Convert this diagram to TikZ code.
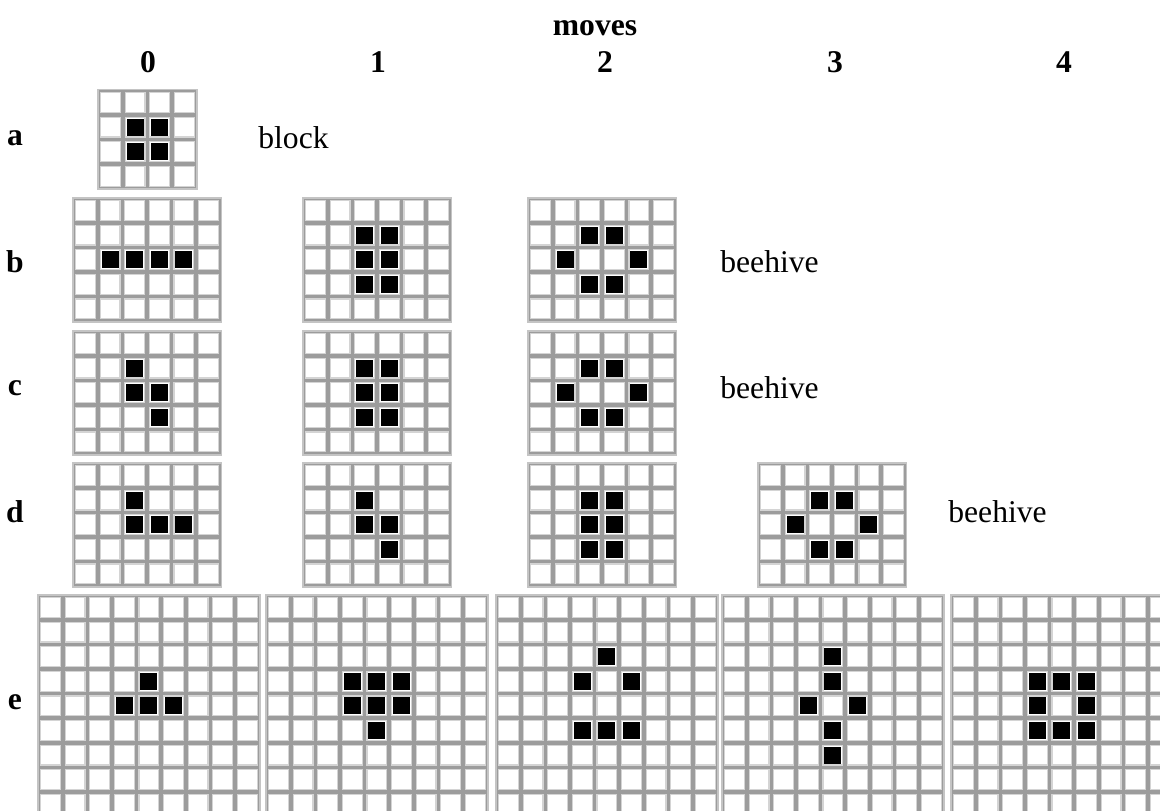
\documentclass[tikz,border=0pt]{standalone}
\usepackage{fontspec}
\setmainfont{Liberation Serif}
\usetikzlibrary{positioning}
\definecolor{gridline}{HTML}{9C9C9C}
\definecolor{gridedge}{HTML}{C4C4C4}
\definecolor{cellhi}{HTML}{D4D4D4}

\newcommand{\cellsz}{24.6}
% \lifegrid{name}{x}{y}{cols}{rows}{live cells as col/row}
\newcommand{\lifegrid}[6]{%
  \coordinate (#1) at (#2,#3);
  \fill[gridedge] (#1) rectangle ({#2+#4*\cellsz+2.5},{#3+#5*\cellsz+2.5});
  \fill[gridline] ({#2+1.5},{#3+1.5}) rectangle ({#2+#4*\cellsz+1},{#3+#5*\cellsz+1});
  \foreach \i in {1,...,#4}{
    \foreach \j in {1,...,#5}{
      \filldraw[cell] ({#2+(\i-1)*\cellsz+3.6},{#3+(\j-1)*\cellsz+3.6}) rectangle ++(19.8,19.8);
    }
  }
  \foreach \i/\j in {#6}{
    \fill[alive] ({#2+\i*\cellsz+5},{#3+\j*\cellsz+5}) rectangle ++(17,17);
  }
}

\begin{document}
\begin{tikzpicture}[
  x=0.02cm, y=-0.02cm,
  cell/.style={fill=white, draw=cellhi, line width=0.6pt},
  alive/.style={fill=black},
  rowlabel/.style={font=\fontsize{18}{20}\selectfont\bfseries, inner sep=0pt},
  colnum/.style={font=\fontsize{18}{20}\selectfont\bfseries, inner sep=0pt},
  note/.style={font=\fontsize{18}{20}\selectfont, anchor=west, inner sep=0pt}
]
\useasboundingbox (0,0) rectangle (1160,811);
\clip (0,0) rectangle (1160,811);

% Header
\node[colnum] (moves) at (595,28) {moves};
\node[colnum] (n0) at (148,62) {0};
\node[colnum] (n1) at (378,62) {1};
\node[colnum] (n2) at (605,62) {2};
\node[colnum] (n3) at (835,62) {3};
\node[colnum] (n4) at (1064,62) {4};

% Row labels
\node[rowlabel] (ra) at (15,138) {a};
\node[rowlabel] (rb) at (15,262) {b};
\node[rowlabel] (rc) at (15,388) {c};
\node[rowlabel] (rd) at (15,512) {d};
\node[rowlabel] (re) at (15,702) {e};

% Row a
\lifegrid{a0}{97}{89}{4}{4}{1/1,2/1,1/2,2/2}
\node[note] (blk) at (258,138) {block};

% Row b
\lifegrid{b0}{72}{197}{6}{5}{1/2,2/2,3/2,4/2}
\lifegrid{b1}{302}{197}{6}{5}{2/1,3/1,2/2,3/2,2/3,3/3}
\lifegrid{b2}{527}{197}{6}{5}{2/1,3/1,1/2,4/2,2/3,3/3}
\node[note] (hiveb) at (720,262) {beehive};

% Row c
\lifegrid{c0}{72}{330}{6}{5}{2/1,2/2,3/2,3/3}
\lifegrid{c1}{302}{330}{6}{5}{2/1,3/1,2/2,3/2,2/3,3/3}
\lifegrid{c2}{527}{330}{6}{5}{2/1,3/1,1/2,4/2,2/3,3/3}
\node[note] (hivec) at (720,388) {beehive};

% Row d
\lifegrid{d0}{72}{462}{6}{5}{2/1,2/2,3/2,4/2}
\lifegrid{d1}{302}{462}{6}{5}{2/1,2/2,3/2,3/3}
\lifegrid{d2}{527}{462}{6}{5}{2/1,3/1,2/2,3/2,2/3,3/3}
\lifegrid{d3}{757}{462}{6}{5}{2/1,3/1,1/2,4/2,2/3,3/3}
\node[note] (hived) at (948,512) {beehive};

% Row e
\lifegrid{e0}{37}{594}{9}{9}{4/3,3/4,4/4,5/4}
\lifegrid{e1}{265}{594}{9}{9}{3/3,4/3,5/3,3/4,4/4,5/4,4/5}
\lifegrid{e2}{495}{594}{9}{9}{4/2,3/3,5/3,3/5,4/5,5/5}
\lifegrid{e3}{721}{594}{9}{9}{4/2,4/3,3/4,5/4,4/5,4/6}
\lifegrid{e4}{950}{594}{9}{9}{3/3,4/3,5/3,3/4,5/4,3/5,4/5,5/5}

\end{tikzpicture}
\end{document}
